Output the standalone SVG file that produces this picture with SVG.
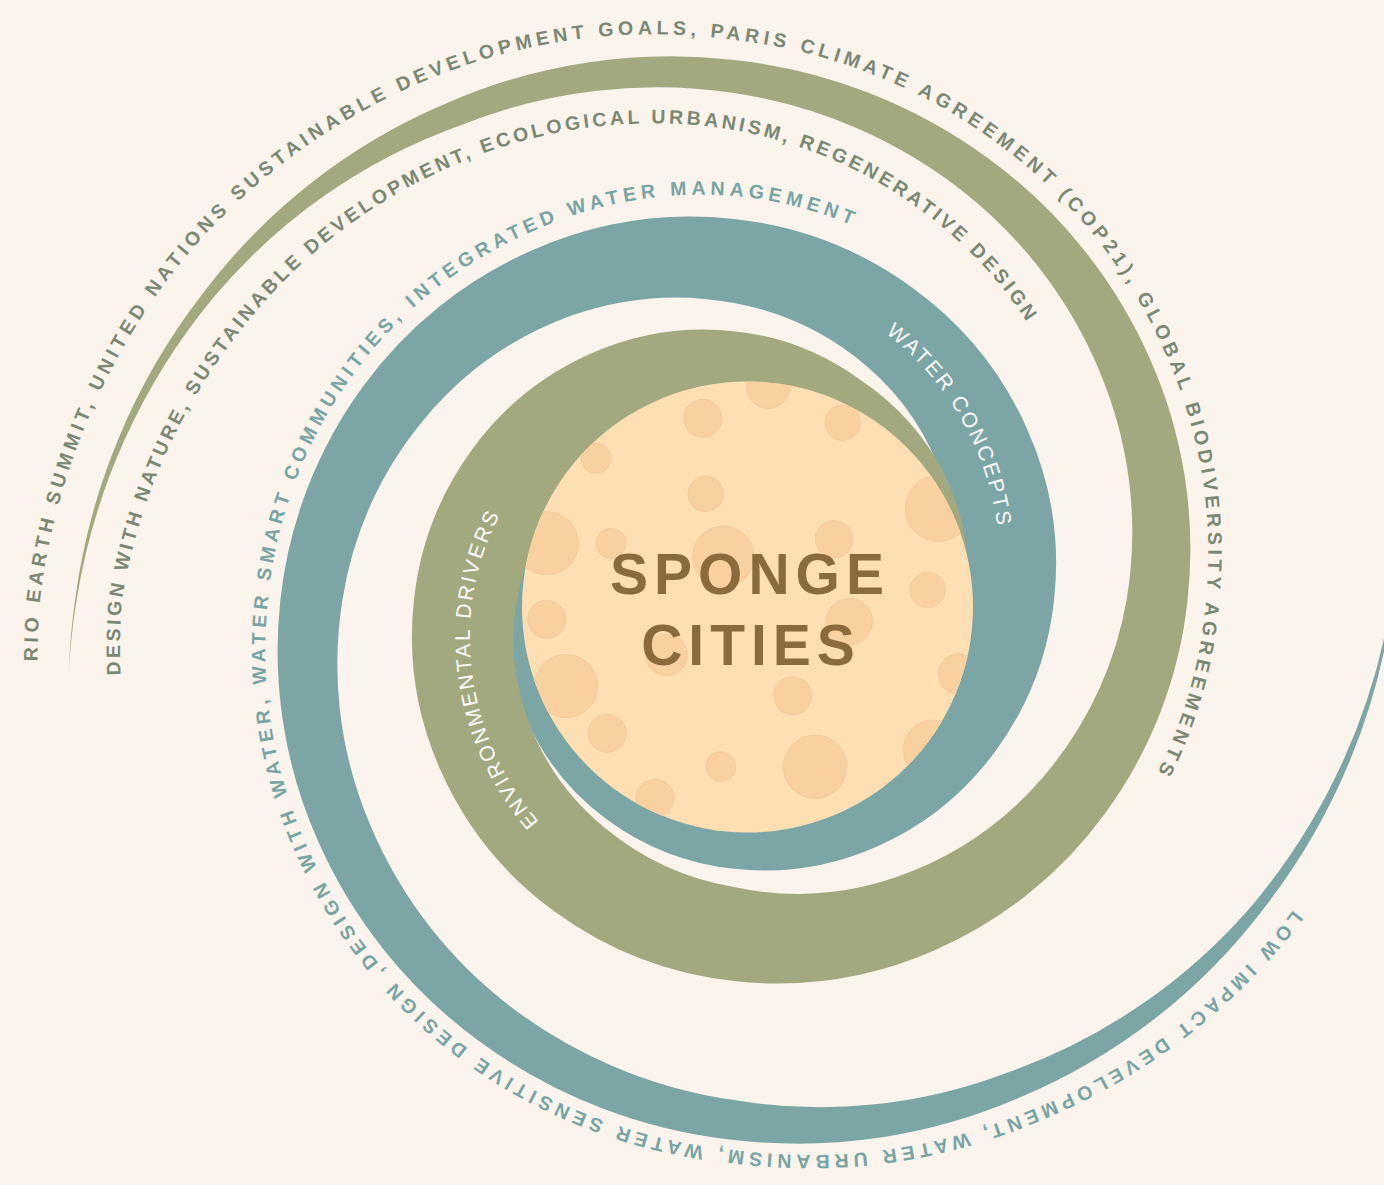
<svg xmlns="http://www.w3.org/2000/svg" width="1384" height="1185" viewBox="0 0 1384 1185">
<defs>
<style>
.outer{font-family:'Liberation Sans',Arial,sans-serif;font-weight:bold;font-size:19.5px;}
.gray{fill:#7A8874;}
.tealt{fill:#78A4A4;}
.band{font-family:'Liberation Sans',Arial,sans-serif;font-size:21px;fill:#FFFFFF;letter-spacing:2.5px;}
.spot{fill:#F9D1A0;stroke:#EDC79B;stroke-width:0.7;}
.title{font-family:'Liberation Sans',Arial,sans-serif;font-weight:bold;font-size:57px;fill:#8B6B3E;letter-spacing:6px;}
</style>
<clipPath id="cc"><circle cx="747.5" cy="607" r="225.5"/></clipPath>
<path id="p1" d="M 37.8 673.2 A 697 697 0 0 1 40 600 A 672 672 0 0 1 171.1 275 A 626.5 626.5 0 0 1 432.5 77.8 A 581.5 581.5 0 0 1 734 40 A 543.5 543.5 0 0 1 997.5 143.6 A 512 512 0 0 1 1164.4 351.5 A 484.5 484.5 0 0 1 1206 600 A 462 462 0 0 1 1125.4 826"/>
<path id="p2" d="M 120.6 675.3 A 615 615 0 0 1 122 600 A 586 586 0 0 1 249 320 A 536.5 536.5 0 0 1 477.5 155.7 A 491.5 491.5 0 0 1 734 130 A 448 448 0 0 1 947 231.1 A 406 406 0 0 1 1068.3 407"/>
<path id="p3" d="M 1293.3 910 A 614.75 614.75 0 0 1 1029 1110.9 A 570 570 0 0 1 734 1150 A 536 536 0 0 1 473 1052.1 A 507.5 507.5 0 0 1 307.1 846.5 A 479.5 479.5 0 0 1 268 600 A 454.5 454.5 0 0 1 350.4 378.5 A 432 432 0 0 1 523.5 235.4 A 412.5 412.5 0 0 1 734 196 A 394.5 394.5 0 0 1 926.5 266.6"/>
<path id="pw" d="M 762.3 276.2 A 314 314 0 0 1 907.8 351.8 A 291.5 291.5 0 0 1 987.8 481.7 A 269.5 269.5 0 0 1 992 622.6"/>
<path id="pe" d="M 627.6 892.2 A 300 300 0 0 1 512.6 785.8 A 278.5 278.5 0 0 1 470.1 646.5 A 258.5 258.5 0 0 1 500 514.8 A 240 240 0 0 1 585.5 423.1"/>
</defs>
<rect width="1384" height="1185" fill="#FAF4ED"/>
<g id="teal-spiral">
<path fill="#7BA6A5" d="M 1399.4 524.2 A 664.3 664.3 0 0 1 1392.9 600 A 636.1 636.1 0 0 1 1265.1 906.7 A 593.6 593.6 0 0 1 1020.95 1097 A 557 557 0 0 1 734 1140 A 524.8 524.8 0 0 1 479.24 1041.24 A 495.1 495.1 0 0 1 317.68 840.37 A 467.2 467.2 0 0 1 280.4 600 A 440.8 440.8 0 0 1 363.36 385.98 A 415.9 415.9 0 0 1 532.09 250.29 A 392.4 392.4 0 0 1 734 218.98 A 370.3 370.3 0 0 1 913.76 288.66 A 349.4 349.4 0 0 1 1027.76 430.39 A 329.6 329.6 0 0 1 1054.06 600 A 311 311 0 0 1 995.53 751 A 293.5 293.5 0 0 1 876.47 846.77 A 276.9 276.9 0 0 1 734 868.85 A 261.3 261.3 0 0 1 607.16 819.69 A 246.5 246.5 0 0 1 526.72 719.68 A 232.6 232.6 0 0 1 508.16 600 A 219.5 219.5 0 0 1 549.46 493.45 L 904.6 698.5 A 206 206 0 0 0 949.06 600 A 228.1 228.1 0 0 0 942.89 479.4 A 254.9 254.9 0 0 0 868.26 367.47 A 282.8 282.8 0 0 0 734 302.98 A 312.4 312.4 0 0 0 570.09 316.11 A 343.4 343.4 0 0 0 423.11 420.5 A 375.3 375.3 0 0 0 342.4 600 A 408.7 408.7 0 0 0 365.31 812.87 A 444.1 444.1 0 0 0 502.74 1000.53 A 481.3 481.3 0 0 0 734 1100 A 523 523 0 0 0 1006.95 1072.75 A 574.1 574.1 0 0 0 1255.6 901.15 A 629.9 629.9 0 0 0 1391.4 600 A 663.5 663.5 0 0 0 1399.4 524.2 Z"/>
</g>
<g id="olive-spiral">
<path fill="#A3A97F" d="M 68.6 675.8 A 664.3 664.3 0 0 1 75.1 600 A 636.1 636.1 0 0 1 202.9 293.3 A 593.6 593.6 0 0 1 447.05 103 A 557 557 0 0 1 734 60 A 524.8 524.8 0 0 1 988.76 158.76 A 495.1 495.1 0 0 1 1150.32 359.63 A 467.2 467.2 0 0 1 1187.6 600 A 440.8 440.8 0 0 1 1104.64 814 A 415.9 415.9 0 0 1 935.91 949.71 A 392.4 392.4 0 0 1 734 981.02 A 370.3 370.3 0 0 1 554.24 911.34 A 349.4 349.4 0 0 1 440.24 769.61 A 329.6 329.6 0 0 1 413.94 600 A 311 311 0 0 1 472.47 449 A 293.5 293.5 0 0 1 591.53 353.23 A 276.9 276.9 0 0 1 734 331.15 A 261.3 261.3 0 0 1 860.84 380.31 A 249.3 249.3 0 0 1 946.2 477.5 A 239 239 0 0 1 967 600 A 225.5 225.5 0 0 1 922.8 709 L 734 435.15 A 172.9 172.9 0 0 0 643.55 443.34 A 189.5 189.5 0 0 0 562.5 501 A 207.5 207.5 0 0 0 516.94 600 A 227.6 227.6 0 0 0 527.7 719.1 A 249.9 249.9 0 0 0 603.25 826.5 A 274.3 274.3 0 0 0 734 887.02 A 303.9 303.9 0 0 0 894.4 877.8 A 338.4 338.4 0 0 0 1042.3 778 A 374.3 374.3 0 0 0 1126.6 600 A 410.7 410.7 0 0 0 1105.25 385.65 A 448.1 448.1 0 0 0 967.75 195.14 A 487.3 487.3 0 0 0 734 93 A 527.5 527.5 0 0 0 460.05 125.5 A 575.1 575.1 0 0 0 212.4 298.85 A 629.9 629.9 0 0 0 76.6 600 A 663.5 663.5 0 0 0 68.6 675.8 Z"/>
</g>
<g id="sponge-cities">
<circle cx="747.5" cy="607" r="225.5" fill="#FDDFB3"/>
<g clip-path="url(#cc)">
<circle class="spot" cx="768.3" cy="386.7" r="21.7"/>
<circle class="spot" cx="702.7" cy="418.3" r="19"/>
<circle class="spot" cx="842.7" cy="422.7" r="17.7"/>
<circle class="spot" cx="596" cy="458.3" r="15"/>
<circle class="spot" cx="705.7" cy="494" r="17.7"/>
<circle class="spot" cx="938.3" cy="508.3" r="33"/>
<circle class="spot" cx="546.7" cy="543.3" r="31.7"/>
<circle class="spot" cx="611" cy="543.3" r="15"/>
<circle class="spot" cx="723.3" cy="556.7" r="30.7"/>
<circle class="spot" cx="834" cy="539.3" r="18.7"/>
<circle class="spot" cx="927.7" cy="590" r="17.7"/>
<circle class="spot" cx="546.7" cy="619.3" r="19"/>
<circle class="spot" cx="849.3" cy="621.7" r="23.3"/>
<circle class="spot" cx="666.7" cy="655" r="20.7"/>
<circle class="spot" cx="958.3" cy="674" r="20"/>
<circle class="spot" cx="566" cy="686" r="31.7"/>
<circle class="spot" cx="792.7" cy="695.7" r="19"/>
<circle class="spot" cx="607.3" cy="733.3" r="19"/>
<circle class="spot" cx="933.3" cy="750" r="30"/>
<circle class="spot" cx="720.7" cy="766.7" r="15"/>
<circle class="spot" cx="815" cy="766.7" r="31.7"/>
<circle class="spot" cx="655" cy="798.3" r="19"/>
</g>
<text class="title" x="750" y="594" text-anchor="middle">SPONGE</text>
<text class="title" x="751" y="665" text-anchor="middle">CITIES</text>
</g>
<g id="band-labels">
<text class="band"><textPath href="#pw" startOffset="54.5%" text-anchor="middle">WATER CONCEPTS</textPath></text>
<text class="band"><textPath href="#pe" startOffset="49%" text-anchor="middle">ENVIRONMENTAL DRIVERS</textPath></text>
</g>
<g id="outer-labels">
<text class="outer gray" letter-spacing="4.45"><textPath href="#p1" startOffset="12">RIO EARTH SUMMIT, UNITED NATIONS SUSTAINABLE DEVELOPMENT GOALS, PARIS CLIMATE AGREEMENT (COP21), GLOBAL BIODIVERSITY AGREEMENTS</textPath></text>
<text class="outer gray" letter-spacing="3.35"><textPath href="#p2">DESIGN WITH NATURE, SUSTAINABLE DEVELOPMENT, ECOLOGICAL URBANISM, REGENERATIVE DESIGN</textPath></text>
<text class="outer tealt" letter-spacing="4.75"><textPath href="#p3">LOW IMPACT DEVELOPMENT, WATER URBANISM, WATER SENSITIVE DESIGN ,DESIGN WITH WATER, WATER SMART COMMUNITIES, INTEGRATED WATER MANAGEMENT</textPath></text>
</g>
</svg>
